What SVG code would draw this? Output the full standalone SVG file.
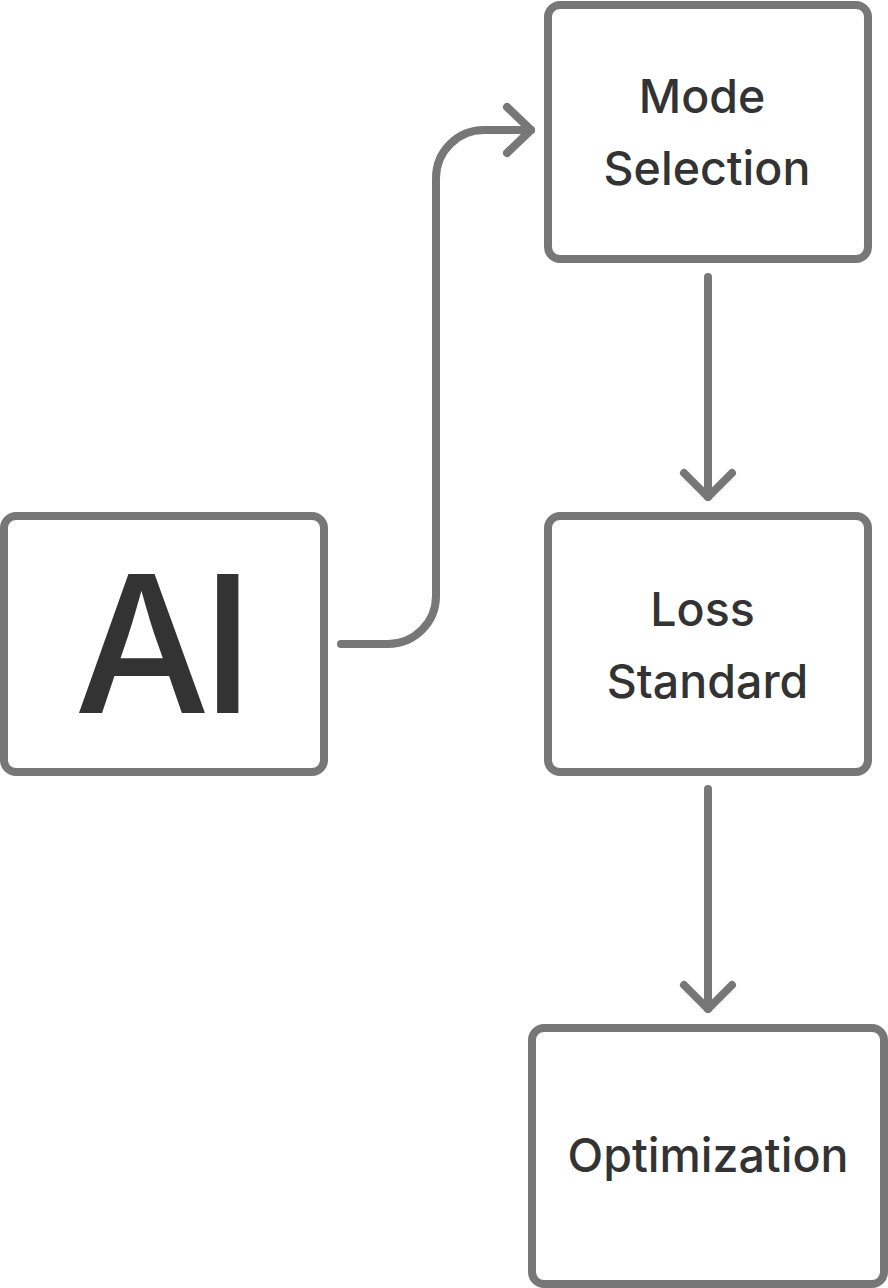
<svg xmlns="http://www.w3.org/2000/svg" width="888" height="1288" viewBox="0 0 888 1288">
<style>
.box{fill:#fff;stroke:#777;stroke-width:8}
.lbl{font-family:Inter,"Liberation Sans",sans-serif;font-size:46.5px;font-weight:500;fill:#333;text-anchor:middle}
.big{font-family:Inter,"Liberation Sans",sans-serif;font-size:191px;font-weight:500;letter-spacing:-8px;fill:#333;text-anchor:middle}
.con{fill:none;stroke:#777;stroke-width:8;stroke-linecap:round;stroke-linejoin:round}
</style>
<rect width="888" height="1288" fill="#fff"/>
<g id="node-ai">
<rect class="box" x="4" y="516" width="320" height="256" rx="12"/>
<text class="big" x="160" y="713">AI</text>
</g>
<g id="node-mode">
<rect class="box" x="548" y="5" width="320" height="254" rx="12"/>
<text class="lbl" x="702" y="113">Mode</text>
<text class="lbl" x="707" y="185">Selection</text>
</g>
<g id="node-loss">
<rect class="box" x="548" y="516" width="320" height="256" rx="12"/>
<text class="lbl" x="702.5" y="626">Loss</text>
<text class="lbl" x="707.5" y="698">Standard</text>
</g>
<g id="node-opt">
<rect class="box" x="532" y="1028" width="352" height="256" rx="12"/>
<text class="lbl" x="708" y="1172">Optimization</text>
</g>
<g id="connectors">
<path class="con" d="M341 644 H388 A48 48 0 0 0 436 596 V178 A48 48 0 0 1 484 130 H531"/>
<path class="con" d="M507 107 L531 130 L507 153"/>
<path class="con" d="M708 277 V497"/>
<path class="con" d="M684 473 L708 497 L732 473"/>
<path class="con" d="M708 789 V1009"/>
<path class="con" d="M684 985 L708 1009 L732 985"/>
</g>
</svg>
